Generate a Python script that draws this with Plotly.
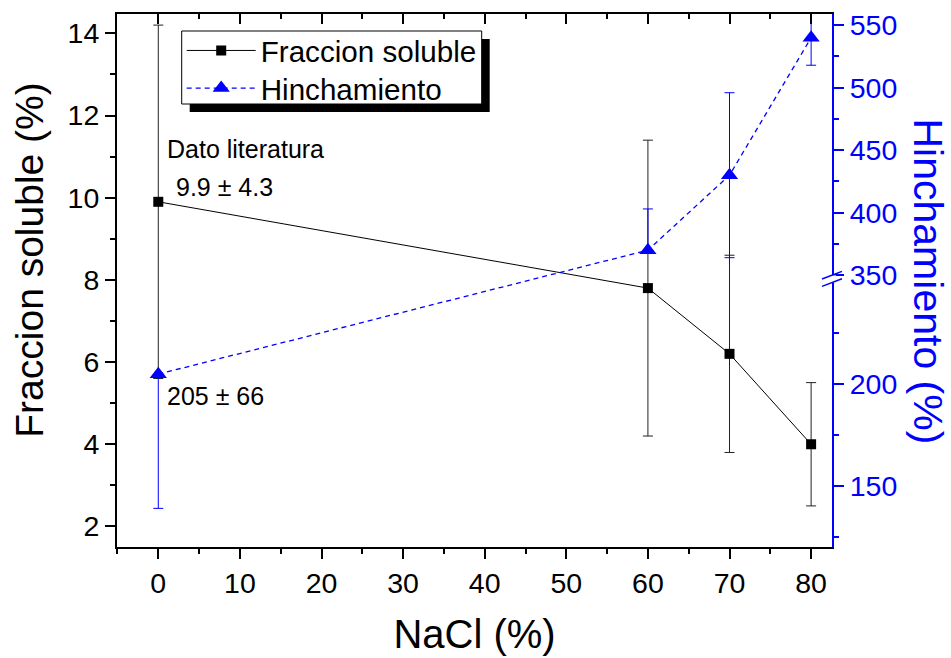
import plotly.graph_objects as go

# ---- data -------------------------------------------------------------
nacl = [0, 60, 70, 80]                      # NaCl (%)
fraccion = [9.9, 7.8, 6.2, 4.0]             # Fraccion soluble (%)
fraccion_err = [4.3, 3.6, 2.4, 1.5]
hinch = [205, 370, 430, 540]                # Hinchamiento (%)
hinch_err = [66, 33, 66, 22]

x_ticks = [0, 10, 20, 30, 40, 50, 60, 70, 80]
fraccion_ticks = [2, 4, 6, 8, 10, 12, 14]
hinch_ticks = [150, 200, 350, 400, 450, 500, 550]
hinch_minor = [125, 175, 225, 375, 425, 475, 525]

# ---- geometry of the figure (pixels) ----------------------------------
W, H = 951, 658
L, R, T, B = 117, 119, 14, 111
PW, PH = W - L - R, H - T - B

FONT = "Liberation Sans, Arial, sans-serif"
BLUE = "#0000ff"

# broken right axis: value segment -> fraction of the axis height
LOW_SEG = (120.0, 250.0, 0.0, 0.496)
HIGH_SEG = (350.0, 559.0, 0.51, 1.0)


def brk(v):
    a0, a1, f0, f1 = LOW_SEG
    b0, b1, g0, g1 = HIGH_SEG
    if v <= a1:
        return f0 + (v - a0) / (a1 - a0) * (f1 - f0)
    if v >= b0:
        return g0 + (v - b0) / (b1 - b0) * (g1 - g0)
    return f1 + (v - a1) / (b0 - a1) * (g0 - f1)


def in_gap(v):
    return LOW_SEG[1] < v < HIGH_SEG[0]


# error bar halves that end inside the break are not drawn
hinch_plus = [0 if in_gap(v + e) else brk(v + e) - brk(v) for v, e in zip(hinch, hinch_err)]
hinch_minus = [0 if in_gap(v - e) else brk(v) - brk(v - e) for v, e in zip(hinch, hinch_err)]


def px_x(p):
    return (p - L) / PW


def px_y(p):
    return (H - B - p) / PH


fig = go.Figure()

fig.add_trace(go.Scatter(
    x=nacl, y=fraccion, name="Fraccion soluble", legend="legend",
    mode="lines+markers",
    line=dict(color="black", width=1),
    marker=dict(symbol="square", size=10, color="black"),
    error_y=dict(type="data", array=fraccion_err, color="#222222",
                 thickness=1, width=5),
))

fig.add_trace(go.Scatter(
    x=nacl, y=[brk(v) for v in hinch], name="Hinchamiento", legend="legend2",
    yaxis="y2",
    mode="lines+markers",
    line=dict(color=BLUE, width=1.3, dash="5px,4px"),
    marker=dict(symbol="triangle-up", size=15, color=BLUE),
    error_y=dict(type="data", symmetric=False, array=hinch_plus,
                 arrayminus=hinch_minus, color=BLUE, thickness=1, width=5),
    customdata=hinch, hovertemplate="%{x}, %{customdata}<extra></extra>",
))

# empty trace that carries the mirrored top axis
fig.add_trace(go.Scatter(x=[], y=[], xaxis="x2", showlegend=False,
                         hoverinfo="skip"))

x_range = [-5.06, 82.56]
tickfont = dict(family=FONT, size=28.5, color="black")
legend_font = dict(family=FONT, size=29.6, color="black")


def legend_row(center_px):
    return dict(x=px_x(181.7), y=px_y(center_px), xanchor="left",
                yanchor="middle", bgcolor="rgba(0,0,0,0)", borderwidth=0,
                font=legend_font, itemwidth=69)


fig.update_layout(
    width=W, height=H,
    margin=dict(l=L, r=R, t=T, b=B, autoexpand=False),
    paper_bgcolor="white", plot_bgcolor="white",
    font=dict(family=FONT, color="black"),
    showlegend=True,
    legend=legend_row(50.7),
    legend2=legend_row(88.3),
    xaxis=dict(
        range=x_range, tickmode="array", tickvals=x_ticks,
        ticks="outside", ticklen=10, tickwidth=1.5, tickcolor="black",
        minor=dict(dtick=5, tick0=0, ticks="outside", ticklen=5,
                   tickwidth=1.5, tickcolor="black"),
        showline=True, linecolor="black", linewidth=2,
        showgrid=False, zeroline=False, tickfont=tickfont,
        title=dict(text="NaCl (%)", font=dict(family=FONT, size=40),
                   standoff=22),
    ),
    xaxis2=dict(
        range=x_range, overlaying="x", side="top", anchor="y",
        tickmode="array", tickvals=x_ticks,
        ticks="inside", ticklen=10, tickwidth=1.5, tickcolor="black",
        minor=dict(dtick=5, tick0=0, ticks="inside", ticklen=5,
                   tickwidth=1.5, tickcolor="black"),
        showline=True, linecolor="black", linewidth=2,
        showgrid=False, zeroline=False, showticklabels=False,
    ),
    yaxis=dict(
        range=[1.5, 14.47], tickmode="array", tickvals=fraccion_ticks,
        ticks="outside", ticklen=10, tickwidth=1.5, tickcolor="black",
        minor=dict(dtick=1, tick0=0, ticks="outside", ticklen=5,
                   tickwidth=1.5, tickcolor="black"),
        showline=True, linecolor="black", linewidth=2,
        showgrid=False, zeroline=False, tickfont=tickfont,
    ),
    yaxis2=dict(
        range=[0, 1], overlaying="y", side="right", anchor="x",
        tickmode="array", tickvals=[brk(v) for v in hinch_ticks],
        ticktext=[str(v) for v in hinch_ticks],
        ticks="outside", ticklen=10, tickwidth=1.5, tickcolor=BLUE,
        minor=dict(tickmode="array", tickvals=[brk(v) for v in hinch_minor],
                   ticks="outside", ticklen=5, tickwidth=1.5, tickcolor=BLUE),
        showline=True, linecolor=BLUE, linewidth=2,
        showgrid=False, zeroline=False,
        tickfont=dict(family=FONT, size=28.5, color=BLUE),
    ),
)

# left axis title (placed a little above the axis centre)
fig.add_annotation(
    text="Fraccion soluble (%)", textangle=-90, xref="paper", yref="paper",
    x=px_x(30), y=px_y(260.7), xanchor="center", yanchor="middle",
    showarrow=False, font=dict(family=FONT, size=39, color="black"),
)

# right axis title, reading top to bottom
fig.add_annotation(
    text="Hinchamiento (%)", textangle=90, xref="paper", yref="paper",
    x=px_x(928), y=px_y(281.5), xanchor="center", yanchor="middle",
    showarrow=False, font=dict(family=FONT, size=41, color=BLUE),
)

# value labels
label_font = dict(family=FONT, size=25, color="black")
fig.add_annotation(text="Dato literatura", x=0.85, y=11.19, xref="x", yref="y",
                   xanchor="left", yanchor="middle", showarrow=False,
                   font=label_font)
fig.add_annotation(text="9.9 ± 4.3", x=1.95, y=10.25, xref="x", yref="y",
                   xanchor="left", yanchor="middle", showarrow=False,
                   font=label_font)
fig.add_annotation(text="205 ± 66", x=0.85, y=5.17, xref="x", yref="y",
                   xanchor="left", yanchor="middle", showarrow=False,
                   font=label_font)

# legend frame with drop shadow
fig.add_shape(type="rect", xref="paper", yref="paper",
              x0=px_x(189.7), x1=px_x(489.7), y0=px_y(112), y1=px_y(39),
              fillcolor="black", line=dict(width=0), layer="above")
fig.add_shape(type="rect", xref="paper", yref="paper",
              x0=px_x(181.7), x1=px_x(481.7), y0=px_y(104), y1=px_y(31),
              fillcolor="white", line=dict(color="black", width=1),
              layer="above")

# axis break marks on the right axis
gap_c = (brk(LOW_SEG[1]) + brk(HIGH_SEG[0])) / 2
fig.add_shape(type="rect", xref="paper", yref="y2",
              xsizemode="pixel", ysizemode="pixel", xanchor=1, yanchor=gap_c,
              x0=-3, x1=4, y0=-3.5, y1=3.5,
              fillcolor="white", line=dict(width=0), layer="above")
for off in (3.7, -3.7):
    fig.add_shape(type="line", xref="paper", yref="y2",
                  xsizemode="pixel", ysizemode="pixel", xanchor=1,
                  yanchor=gap_c, x0=-10, x1=10, y0=off - 3.8, y1=off + 3.8,
                  line=dict(color=BLUE, width=1.5), layer="above")

fig.write_html("out.html")
